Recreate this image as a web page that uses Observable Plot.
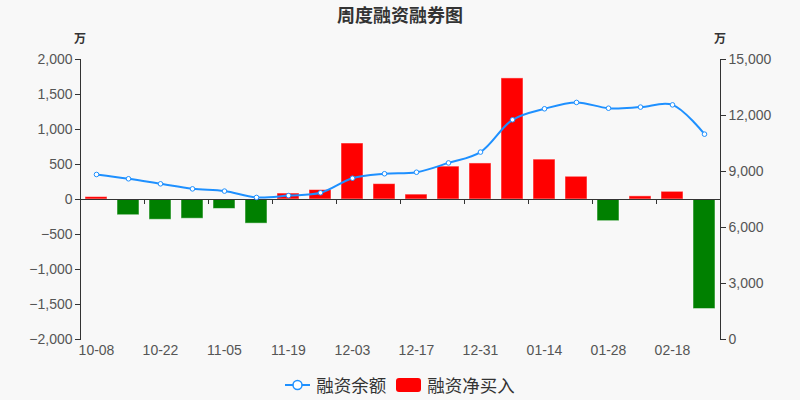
<!DOCTYPE html>
<html>
<head>
<meta charset="utf-8">
<script src="https://cdn.jsdelivr.net/npm/d3@7"></script>
<script src="https://cdn.jsdelivr.net/npm/@observablehq/plot@0.6"></script>
<style>
  html, body { margin: 0; padding: 0; background: #f8f8f8; }
  #wrap { position: relative; width: 800px; height: 400px; background: #f8f8f8; overflow: hidden;
          font-family: "Liberation Sans", "Noto Sans CJK SC", sans-serif; }
  #title { position: absolute; left: 0; top: 3px; width: 800px; text-align: center; font-size: 18px; font-weight: bold;
           color: #333; line-height: 22px; font-family: "Noto Sans CJK SC", sans-serif; }
  .unit { position: absolute; top: 30px; width: 20px; margin-left: -10px; text-align: center; font-size: 12px; font-weight: bold;
          color: #333; font-family: "Noto Sans CJK SC", sans-serif; line-height: 16px; }
  #legend { position: absolute; left: 0; top: 373px; width: 800px; display: flex; justify-content: center; align-items: center;
            font-family: "Noto Sans CJK SC", sans-serif; font-size: 17.5px; color: #333; line-height: 24px; }
  #legend .item { display: flex; align-items: center; }
  #plot { position: absolute; left: 0; top: 0; }
</style>
</head>
<body>
<div id="wrap">
  <div id="plot"></div>
  <div id="title"></div>
  <div class="unit" id="unitL" style="left:80px"></div>
  <div class="unit" id="unitR" style="left:720px"></div>
  <div id="legend"></div>
</div>
<script>
const title = "周度融资融券图";
const unitLabel = "万";
const seriesNames = ["融资余额", "融资净买入"];
const dates = ["10-08","10-15","10-22","10-29","11-05","11-12","11-19","11-26","12-03","12-10",
               "12-17","12-24","12-31","01-07","01-14","01-21","01-28","02-11","02-18","02-25"];
const netBuy = [35, -225, -290, -275, -135, -345, 85, 135, 800, 220,
                70, 470, 515, 1730, 570, 325, -310, 45, 110, -1565];
const balance = [8840, 8610, 8340, 8070, 7950, 7610, 7710, 7860, 8640, 8880,
                 8960, 9460, 10040, 11770, 12360, 12700, 12390, 12450, 12570, 11000];
const leftTicks = [-2000, -1500, -1000, -500, 0, 500, 1000, 1500, 2000];
const rightTicks = [0, 3000, 6000, 9000, 12000, 15000];
const leftDomain = [-2000, 2000];
const rightDomain = [0, 15000];

const lineColor = "#1e90ff";
const upColor = "#ff0000";
const downColor = "#008000";
const axisColor = "#333";
const labelColor = "#555";

const toLeft = v => leftDomain[0] + (v - rightDomain[0]) * (leftDomain[1] - leftDomain[0]) / (rightDomain[1] - rightDomain[0]);
const fromLeft = v => Math.round(rightDomain[0] + (v - leftDomain[0]) * (rightDomain[1] - rightDomain[0]) / (leftDomain[1] - leftDomain[0]));
const fmt = d3.format(",");

const data = dates.map((d, i) => ({date: d, net: netBuy[i], bal: balance[i]}));
const labelDates = dates.filter((d, i) => i % 2 === 0);

const chart = Plot.plot({
  width: 800,
  height: 400,
  marginLeft: 80,
  marginRight: 80,
  marginTop: 59,
  marginBottom: 61,
  style: {background: "transparent", fontFamily: "'Liberation Sans', sans-serif", fontSize: "14px", color: labelColor},
  x: {type: "band", domain: dates, padding: 0, axis: null},
  y: {domain: leftDomain, axis: null},
  marks: [
    Plot.frame({anchor: "left", stroke: axisColor}),
    Plot.frame({anchor: "right", stroke: axisColor}),
    Plot.axisY({anchor: "left", ticks: leftTicks, tickFormat: fmt, tickSize: 5, tickPadding: 3, label: null, stroke: axisColor, fill: labelColor, fontSize: 14}),
    Plot.axisY({anchor: "right", ticks: rightTicks.map(toLeft), tickFormat: v => fmt(fromLeft(v)), tickSize: 5, tickPadding: 3, label: null, stroke: axisColor, fill: labelColor, fontSize: 14}),
    Plot.axisX({anchor: "bottom", ticks: labelDates, tickSize: 0, tickPadding: 6, label: null, fill: labelColor, fontSize: 14}),
    Plot.barY(data, {x: "date", y: "net", fill: d => d.net >= 0 ? upColor : downColor,
                     insetLeft: 5, insetRight: 5, stroke: "#ffffff", strokeOpacity: 0.5, strokeWidth: 1}),
    Plot.ruleY([0], {stroke: axisColor, strokeWidth: 1}),
    Plot.ruleX(labelDates, {x: d => d, y1: 0, y2: 0, dx: -16, insetTop: 0, insetBottom: -5, stroke: axisColor}),
    Plot.line(data, {x: "date", y: d => toLeft(d.bal), stroke: lineColor, strokeWidth: 2, curve: "catmull-rom"}),
    Plot.dot(data, {x: "date", y: d => toLeft(d.bal), r: 2.3, fill: "#fff", stroke: lineColor, strokeWidth: 1})
  ]
});
document.getElementById("plot").appendChild(chart);
document.getElementById("title").textContent = title;
document.getElementById("unitL").textContent = unitLabel;
document.getElementById("unitR").textContent = unitLabel;

const legend = document.getElementById("legend");
legend.innerHTML =
  `<div class="item"><svg width="25" height="14" style="margin-right:6px"><line x1="0" y1="7" x2="25" y2="7" stroke="${lineColor}" stroke-width="2"/><circle cx="12.5" cy="7" r="4.5" fill="#fff" stroke="${lineColor}" stroke-width="1.5"/></svg><span>${seriesNames[0]}</span></div>` +
  `<div class="item" style="margin-left:10px"><svg width="25" height="14" style="margin-right:6px"><rect x="0" y="0" width="25" height="14" rx="3" fill="${upColor}"/></svg><span>${seriesNames[1]}</span></div>`;
</script>
</body>
</html>
